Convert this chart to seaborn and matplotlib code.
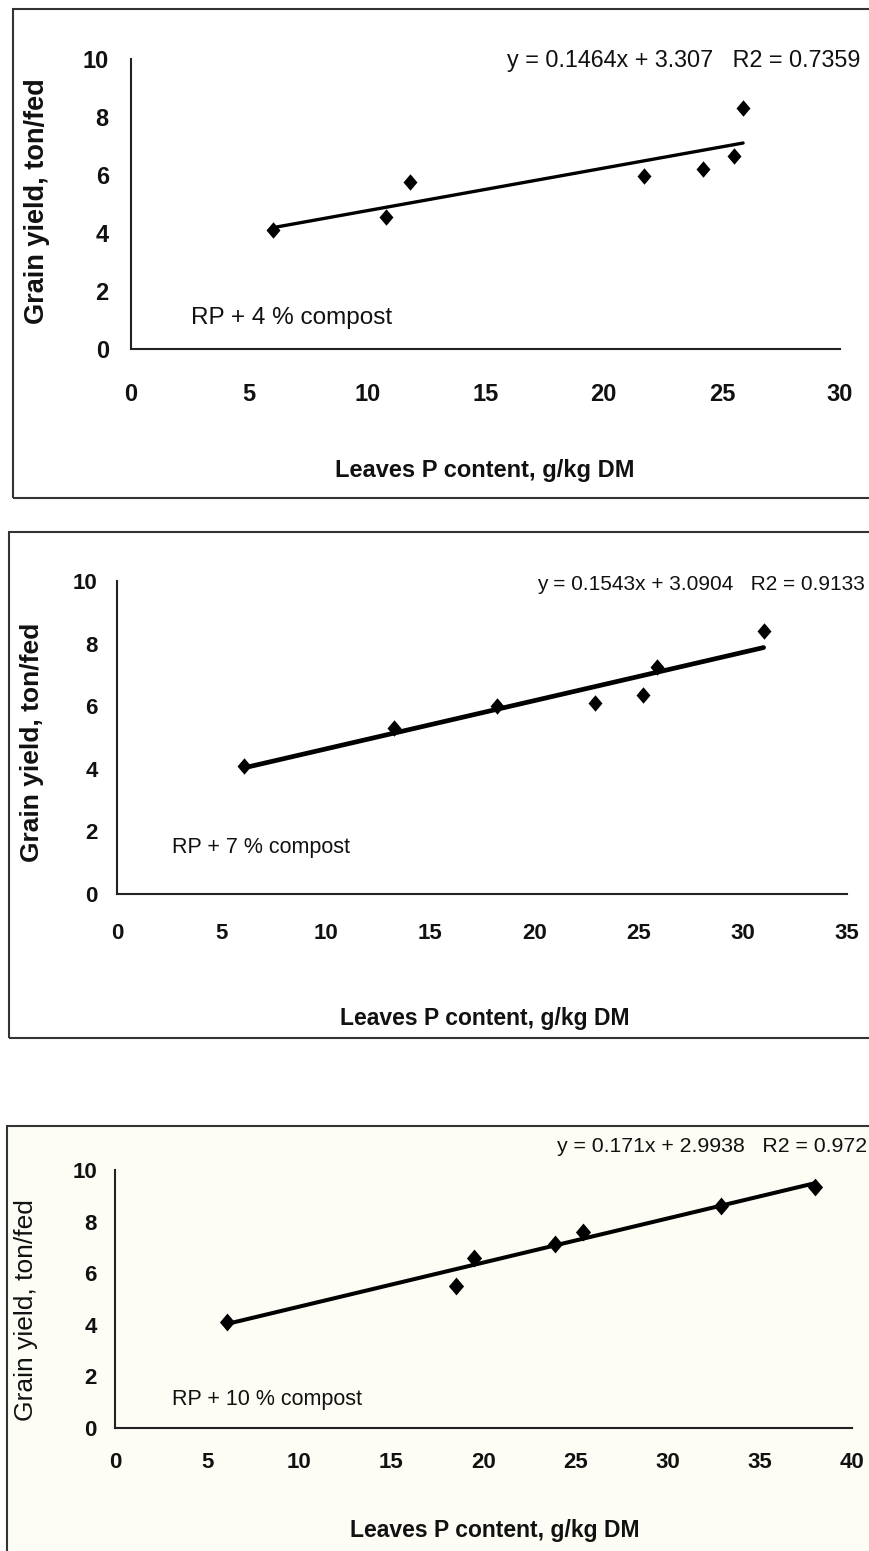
import numpy as np
import pandas as pd
import matplotlib
matplotlib.use("Agg")
import matplotlib.pyplot as plt
import seaborn as sns
from matplotlib.patches import Rectangle

# Values
x_4 = [6.0, 10.8, 11.8, 21.7, 24.2, 25.5, 25.9]
y_4 = [4.1, 4.55, 5.75, 5.95, 6.2, 6.65, 8.3]
x_7 = [6.1, 13.3, 18.2, 22.9, 25.2, 25.9, 31.0]
y_7 = [4.1, 5.3, 6.0, 6.1, 6.35, 7.25, 8.4]
x_10 = [6.1, 18.5, 19.5, 23.9, 25.4, 32.9, 38.0]
y_10 = [4.1, 5.5, 6.6, 7.15, 7.6, 8.6, 9.35]

slopes = [0.1464, 0.1543, 0.171]
intercepts = [3.307, 3.0904, 2.9938]
slope_txt = ['0.1464', '0.1543', '0.171']
intercept_txt = ['3.307', '3.0904', '2.9938']
r2_txt = ['0.7359', '0.9133', '0.972']
x_limits = [30, 35, 40]
treatments = ['RP + 4 % compost', 'RP + 7 % compost', 'RP + 10 % compost']

x_label = 'Leaves P content, g/kg DM'
y_label = 'Grain yield, ton/fed'

W, H = 870, 1551


def fx(px):
    return px / W


def fy(py):
    return 1 - py / H


def axes_rect(left, right, top, bottom):
    return [left / W, 1 - bottom / H, (right - left) / W, (bottom - top) / H]


# layout per panel (pixel positions of the original figure)
layouts = [
    dict(ax=(131, 840, 58.7, 349.3), frame=(12.7, 9, 900, 498), bg=None,
         eq=(507, 60, 16.8), trt=(191, 318, 17.5), xl=(485, 470, 17, 'bold'),
         yl=(37, 201, 19.5, 'bold'), ticks=(17, 18, 10), ms=140, lw=2.4),
    dict(ax=(117, 847, 581, 894), frame=(9, 532, 900, 1038), bg=None,
         eq=(537, 585, 15), trt=(172, 848, 15.5), xl=(485, 1018, 16.5, 'bold'),
         yl=(32, 742, 19, 'bold'), ticks=(16, 15, 8), ms=140, lw=3.4),
    dict(ax=(115, 852, 1170, 1428), frame=(7, 1126, 900, 1600), bg='#FDFDF5',
         eq=(557, 1147, 15.3), trt=(172, 1400, 15.5), xl=(495, 1530, 16.5, 'bold'),
         yl=(26, 1310, 19, 'normal'), ticks=(16, 11, 7), ms=165, lw=2.9),
]

sns.set_style("white")
plt.rcParams['font.family'] = ['Liberation Sans', 'DejaVu Sans']

fig = plt.figure(figsize=(W / 100, H / 100), dpi=100)

xs = [x_4, x_7, x_10]
ys = [y_4, y_7, y_10]
diamond = [(0, 1), (0.85, 0), (0, -1), (-0.85, 0), (0, 1)]

for i, lay in enumerate(layouts):
    # Frame around each chart
    fl, ft, fr, fb = lay['frame']
    fig.add_artist(Rectangle((fx(fl), fy(fb)), (fr - fl) / W, (fb - ft) / H,
                             transform=fig.transFigure, facecolor=lay['bg'] or 'none',
                             edgecolor='#333333', linewidth=1.5, zorder=0))

    ax = fig.add_axes(axes_rect(*lay['ax']))
    ax.set_facecolor('none')

    df = pd.DataFrame({'P': xs[i], 'yield': ys[i]})
    sns.scatterplot(data=df, x='P', y='yield', marker=diamond, s=lay['ms'],
                    color='black', edgecolor='black', linewidth=0, ax=ax, zorder=3)

    x_line = np.array([min(xs[i]), max(xs[i])])
    y_line = slopes[i] * x_line + intercepts[i]
    sns.lineplot(x=x_line, y=y_line, color='black', linewidth=lay['lw'], ax=ax, zorder=2)

    ax.set_xlim(0, x_limits[i])
    ax.set_ylim(0, 10)
    ax.set_xticks(np.arange(0, x_limits[i] + 1, 5))
    ax.set_yticks(np.arange(0, 11, 2))
    ax.set_xlabel('')
    ax.set_ylabel('')
    for s in ['top', 'right']:
        ax.spines[s].set_visible(False)
    for s in ['left', 'bottom']:
        ax.spines[s].set_color('#222222')
        ax.spines[s].set_linewidth(1.5)

    size, xpad, ypad = lay['ticks']
    ax.tick_params(axis='both', direction='out', length=6, width=1.5, color='#222222',
                   labelsize=size, labelcolor='#111111')
    ax.tick_params(axis='x', pad=xpad)
    ax.tick_params(axis='y', pad=ypad)
    for lab in ax.get_xticklabels() + ax.get_yticklabels():
        lab.set_fontweight('bold')

    ex, ey, esize = lay['eq']
    fig.text(fx(ex), fy(ey),
             f'y = {slope_txt[i]}x + {intercept_txt[i]}   R2 = {r2_txt[i]}',
             ha='left', va='center', fontsize=esize, color='#111111')

    tx, ty, tsize = lay['trt']
    fig.text(fx(tx), fy(ty), treatments[i], ha='left', va='center',
             fontsize=tsize, color='#111111')

    lx, ly, lsize, lweight = lay['xl']
    fig.text(fx(lx), fy(ly), x_label, ha='center', va='center',
             fontsize=lsize, fontweight=lweight, color='#111111')

    yx, yy, ysize, yweight = lay['yl']
    fig.text(fx(yx), fy(yy), y_label, ha='center', va='center', rotation=90,
             fontsize=ysize, fontweight=yweight, color='#111111')

fig.savefig('out.png', dpi=100, facecolor='white')
